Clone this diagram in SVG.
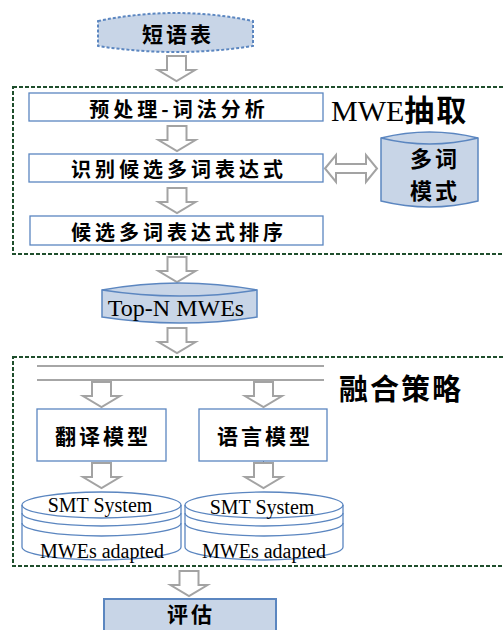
<svg xmlns="http://www.w3.org/2000/svg" width="503" height="630" viewBox="0 0 503 630">
<defs>
<style>
.frame{fill:none;stroke:#1f4e2c;stroke-width:2;stroke-dasharray:4 2}
.box{fill:#fff;stroke:#5b86c0;stroke-width:1.3}
.blue{fill:#c8d5e7;stroke:#5b86c0;stroke-width:1.5}
.arr{fill:#fff;stroke:#a3a3a3;stroke-width:2;stroke-linejoin:miter}
.cn{font-family:"Noto Sans CJK SC","Noto Sans CJK JP",sans-serif;font-weight:bold;fill:#000;text-anchor:middle;dominant-baseline:central}
.en{font-family:"Liberation Serif","Times New Roman",serif;fill:#000;text-anchor:middle}
</style>
<path id="dn" class="arr" d="M-9.5,0 H9.5 V14 H18.5 L0,25 L-18.5,14 H-9.5 Z"/>
</defs>

<g id="frames">
<rect id="frame-extract" class="frame" x="13" y="87" width="500" height="167"/>
<rect id="frame-fusion" class="frame" x="13" y="357" width="500" height="209"/>
</g>

<g id="connectors">
<use href="#dn" x="176.5" y="56"/>
<use href="#dn" x="177" y="126"/>
<use href="#dn" x="177" y="188"/>
<use href="#dn" x="177" y="257"/>
<use href="#dn" x="177" y="328"/>
<line x1="37" y1="366" x2="324" y2="366" stroke="#a6a6a6" stroke-width="2"/>
<line x1="37" y1="380" x2="324" y2="380" stroke="#a6a6a6" stroke-width="2"/>
<use href="#dn" x="101.5" y="382"/>
<use href="#dn" x="263.5" y="382"/>
<line x1="263.5" y1="461" x2="263.5" y2="464" stroke="#7f7f7f" stroke-width="1"/>
<use href="#dn" x="101.5" y="463"/>
<use href="#dn" x="263.5" y="463"/>
<use href="#dn" x="189" y="571"/>
<path id="double-arrow" class="arr" d="M325,168.5 L336,155 V164 H366 V155 L377,168.5 L366,182 V173 H336 V182 Z"/>
</g>

<g id="phrase-table">
<path d="M98,21 Q175.5,5 253,21 L253,46 Q175.5,58 98,46 Z" fill="#c8d5e7" stroke="#5b86c0" stroke-width="2" stroke-dasharray="3 2"/>
<text class="cn" x="178" y="33" font-size="21" letter-spacing="3">短语表</text>
</g>

<g id="preprocess">
<rect class="box" x="29" y="93" width="294" height="28"/>
<text class="cn" x="179" y="108" font-size="20" letter-spacing="4">预处理-词法分析</text>
</g>

<g id="label-extract">
<text x="331" y="121" font-family="'Liberation Serif','Noto Sans CJK SC',serif" font-size="30" fill="#000">MWE<tspan font-family="'Noto Sans CJK SC',sans-serif" font-weight="bold" font-size="30" letter-spacing="2">抽取</tspan></text>
</g>

<g id="identify">
<rect class="box" x="29" y="154" width="294" height="28"/>
<text class="cn" x="179" y="168" font-size="20" letter-spacing="4">识别候选多词表达式</text>
</g>

<g id="patterns">
<path class="blue" d="M381,138 Q429.5,126 478,138 V201 Q429.5,213 381,201 Z"/>
<path d="M381,138 Q429.5,150 478,138" fill="none" stroke="#5b86c0" stroke-width="1.5"/>
<text class="cn" x="435" y="157" font-size="22" letter-spacing="3">多词</text>
<text class="cn" x="435" y="189" font-size="22" letter-spacing="3">模式</text>
</g>

<g id="rank">
<rect class="box" x="30" y="216" width="293" height="29"/>
<text class="cn" x="179" y="231" font-size="20" letter-spacing="4">候选多词表达式排序</text>
</g>

<g id="topn">
<path class="blue" d="M102,290 Q179.5,276 257,290 V317 Q179.5,329 102,317 Z"/>
<path d="M102,290 Q179.5,302 257,290" fill="none" stroke="#5b86c0" stroke-width="1.5"/>
<text class="en" x="176" y="316" font-size="24">Top-N MWEs</text>
</g>

<g id="label-fusion">
<text class="cn" x="401" y="387" font-size="29" letter-spacing="2">融合策略</text>
</g>

<g id="translation-model">
<rect class="box" x="37" y="409" width="129" height="52"/>
<text class="cn" x="103" y="435" font-size="21" letter-spacing="3">翻译模型</text>
</g>

<g id="language-model">
<rect class="box" x="199" y="409" width="128" height="52"/>
<text class="cn" x="265" y="435" font-size="21" letter-spacing="3">语言模型</text>
</g>

<g id="smt-1">
<path d="M22,505 A79.5,13 0 0 1 181,505 V547 A79.5,13 0 0 1 22,547 Z" fill="#fff" stroke="#5b86c0" stroke-width="1.3"/>
<path d="M22,505 A79.5,13 0 0 0 181,505 M22,513 A79.5,13 0 0 0 181,513 M22,523 A79.5,13 0 0 0 181,523" fill="none" stroke="#5b86c0" stroke-width="1.3"/>
<text class="en" x="100" y="512" font-size="20">SMT System</text>
<text class="en" x="102" y="558" font-size="20">MWEs adapted</text>
</g>

<g id="smt-2">
<path d="M185,505 A79,13 0 0 1 343,505 V547 A79,13 0 0 1 185,547 Z" fill="#fff" stroke="#5b86c0" stroke-width="1.3"/>
<path d="M185,505 A79,13 0 0 0 343,505 M185,513 A79,13 0 0 0 343,513 M185,523 A79,13 0 0 0 343,523" fill="none" stroke="#5b86c0" stroke-width="1.3"/>
<text class="en" x="262" y="514" font-size="20">SMT System</text>
<text class="en" x="264" y="558" font-size="20">MWEs adapted</text>
</g>

<g id="evaluate">
<rect x="104" y="599" width="172" height="40" fill="#c8d5e7" stroke="#5b86c0" stroke-width="2"/>
<text class="cn" x="191" y="613" font-size="21" letter-spacing="3">评估</text>
</g>
</svg>
